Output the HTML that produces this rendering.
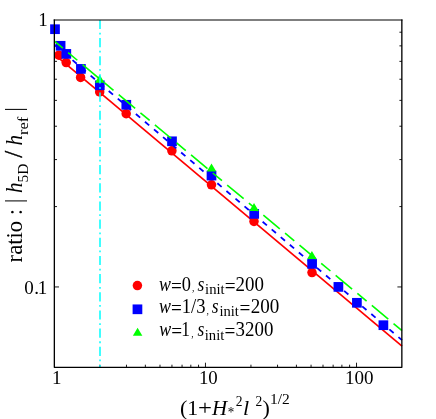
<!DOCTYPE html>
<html><head><meta charset="utf-8"><title>plot</title>
<style>
html,body{margin:0;padding:0;background:#fff;}
body{width:436px;height:419px;overflow:hidden;}
svg{display:block;position:absolute;left:0;top:0;will-change:transform;}
text{font-family:"Liberation Serif",serif;fill:#000;}
</style></head><body>
<svg width="436" height="419" viewBox="0 0 436 419">
<rect x="0" y="0" width="436" height="419" fill="#fff"/>

<g stroke="#000" stroke-width="0.9">
<line x1="99.87" y1="367.3" x2="99.87" y2="364.7"/>
<line x1="126.48" y1="367.3" x2="126.48" y2="364.7"/>
<line x1="145.35" y1="367.3" x2="145.35" y2="364.7"/>
<line x1="159.99" y1="367.3" x2="159.99" y2="364.7"/>
<line x1="171.95" y1="367.3" x2="171.95" y2="364.7"/>
<line x1="182.06" y1="367.3" x2="182.06" y2="364.7"/>
<line x1="190.82" y1="367.3" x2="190.82" y2="364.7"/>
<line x1="198.55" y1="367.3" x2="198.55" y2="364.7"/>
<line x1="205.46" y1="367.3" x2="205.46" y2="362.7"/>
<line x1="250.94" y1="367.3" x2="250.94" y2="364.7"/>
<line x1="277.54" y1="367.3" x2="277.54" y2="364.7"/>
<line x1="296.41" y1="367.3" x2="296.41" y2="364.7"/>
<line x1="311.05" y1="367.3" x2="311.05" y2="364.7"/>
<line x1="323.01" y1="367.3" x2="323.01" y2="364.7"/>
<line x1="333.13" y1="367.3" x2="333.13" y2="364.7"/>
<line x1="341.89" y1="367.3" x2="341.89" y2="364.7"/>
<line x1="349.61" y1="367.3" x2="349.61" y2="364.7"/>
<line x1="356.53" y1="367.3" x2="356.53" y2="362.7"/>
<line x1="54.4" y1="286.94" x2="59.0" y2="286.94"/>
<line x1="402.0" y1="286.94" x2="397.4" y2="286.94"/>
<line x1="54.4" y1="206.58" x2="57.0" y2="206.58"/>
<line x1="402.0" y1="206.58" x2="399.4" y2="206.58"/>
<line x1="54.4" y1="159.58" x2="57.0" y2="159.58"/>
<line x1="402.0" y1="159.58" x2="399.4" y2="159.58"/>
<line x1="54.4" y1="126.23" x2="57.0" y2="126.23"/>
<line x1="402.0" y1="126.23" x2="399.4" y2="126.23"/>
<line x1="54.4" y1="100.36" x2="57.0" y2="100.36"/>
<line x1="402.0" y1="100.36" x2="399.4" y2="100.36"/>
<line x1="54.4" y1="79.22" x2="57.0" y2="79.22"/>
<line x1="402.0" y1="79.22" x2="399.4" y2="79.22"/>
<line x1="54.4" y1="61.35" x2="57.0" y2="61.35"/>
<line x1="402.0" y1="61.35" x2="399.4" y2="61.35"/>
<line x1="54.4" y1="45.87" x2="57.0" y2="45.87"/>
<line x1="402.0" y1="45.87" x2="399.4" y2="45.87"/>
<line x1="54.4" y1="32.21" x2="57.0" y2="32.21"/>
<line x1="402.0" y1="32.21" x2="399.4" y2="32.21"/>
</g>
<g fill="#ff0000">
<circle cx="58.9" cy="55.2" r="4.75"/>
<circle cx="66.2" cy="62.6" r="4.75"/>
<circle cx="80.6" cy="77.4" r="4.75"/>
<circle cx="99.7" cy="91.9" r="4.75"/>
<circle cx="126.2" cy="113.7" r="4.75"/>
<circle cx="171.9" cy="150.8" r="4.75"/>
<circle cx="211.5" cy="184.8" r="4.75"/>
<circle cx="254.0" cy="221.4" r="4.75"/>
<circle cx="312.0" cy="272.6" r="4.75"/>
<circle cx="137.4" cy="285.6" r="4.75"/>
</g>
<line x1="54.4" y1="54.4" x2="402.0" y2="346.2" stroke="#ff0000" stroke-width="1.7"/>
<g fill="#0000ff">
<rect x="50.15" y="24.35" width="9.7" height="9.7"/>
<rect x="55.75" y="40.95" width="9.7" height="9.7"/>
<rect x="61.45" y="49.05" width="9.7" height="9.7"/>
<rect x="76.05" y="64.05" width="9.7" height="9.7"/>
<rect x="94.95" y="80.45" width="9.7" height="9.7"/>
<rect x="121.45" y="99.95" width="9.7" height="9.7"/>
<rect x="167.15" y="136.45" width="9.7" height="9.7"/>
<rect x="206.65" y="170.75" width="9.7" height="9.7"/>
<rect x="249.35" y="209.05" width="9.7" height="9.7"/>
<rect x="307.25" y="259.05" width="9.7" height="9.7"/>
<rect x="333.55" y="282.05" width="9.7" height="9.7"/>
<rect x="352.05" y="297.95" width="9.7" height="9.7"/>
<rect x="378.55" y="320.35" width="9.7" height="9.7"/>
<rect x="132.60" y="304.45" width="9.7" height="9.7"/>
</g>
<line x1="54.4" y1="44.8" x2="402.0" y2="340.1" stroke="#0000ff" stroke-width="1.8" stroke-dasharray="5.6 6.28" stroke-dashoffset="0"/>
<g fill="#00ff00">
<polygon points="99.7,74.7 94.95,82.7 104.45,82.7"/>
<polygon points="211.5,163.5 206.75,171.5 216.25,171.5"/>
<polygon points="254.0,202.9 249.25,210.9 258.75,210.9"/>
<polygon points="311.9,251.0 307.15,259.0 316.65,259.0"/>
<polygon points="137.6,327.7 132.85,335.7 142.35,335.7"/>
</g>
<line x1="54.4" y1="41.15" x2="402.0" y2="330.58" stroke="#00ff00" stroke-width="1.6" stroke-dasharray="21.4 6.85 12 6.8" stroke-dashoffset="10.4"/>
<line x1="100.0" y1="20.0" x2="100.0" y2="367.3" stroke="#00ffff" stroke-width="1.5" stroke-dasharray="9.2 3.6 1.8 3.56" stroke-dashoffset="0.16"/>
<line x1="53.699999999999996" y1="20.0" x2="402.5" y2="20.0" stroke="#000" stroke-width="1.2"/>
<polyline points="54.35,19.4 54.35,367.35 401.85,367.35 401.85,19.4" fill="none" stroke="#000" stroke-width="1.32" stroke-linejoin="round"/>
<text transform="translate(38.13,25.90) scale(1.0,1.0)" font-size="19px">1</text>
<text transform="translate(24.35,293.80) scale(1.0,1.0)" font-size="19px">0</text>
<text transform="translate(34.32,293.80) scale(1.0,1.0)" font-size="19px">.</text>
<text transform="translate(37.63,293.80) scale(1.0,1.0)" font-size="19px">1</text>
<text transform="translate(52.08,384.00) scale(1.0,1.0)" font-size="19px">1</text>
<text transform="translate(198.91,384.00) scale(0.994,1.0)" font-size="19px">10</text>
<text transform="translate(344.99,384.10) scale(1.004,1.0)" font-size="19px">100</text>
<text transform="translate(158.98,290.70) scale(1.02,1.17)" font-size="17.5px" font-style="italic">w</text>
<text transform="translate(170.94,292.70) scale(1.1,1.17)" font-size="17.5px">=</text>
<text transform="translate(181.71,290.70) scale(1.05,1.18)" font-size="17.5px">0</text>
<text transform="translate(192.10,291.30) scale(1.0,1.0)" font-size="9.5px" fill="#666">,</text>
<text transform="translate(197.50,290.70) scale(1.0,1.17)" font-size="17.5px" font-style="italic">s</text>
<text transform="translate(205.09,294.00) scale(1.047,1.1)" font-size="14px">init</text>
<text transform="translate(224.74,292.70) scale(1.1,1.17)" font-size="17.5px">=</text>
<text transform="translate(235.54,290.70) scale(1.083,1.18)" font-size="17.5px">200</text>
<text transform="translate(158.98,313.00) scale(1.02,1.17)" font-size="17.5px" font-style="italic">w</text>
<text transform="translate(170.94,315.00) scale(1.1,1.17)" font-size="17.5px">=</text>
<text transform="translate(181.76,313.00) scale(1.062,1.18)" font-size="17.5px">1/3</text>
<text transform="translate(206.60,313.60) scale(1.0,1.0)" font-size="9.5px" fill="#666">,</text>
<text transform="translate(211.85,313.00) scale(1.0,1.17)" font-size="17.5px" font-style="italic">s</text>
<text transform="translate(219.49,316.30) scale(1.041,1.1)" font-size="14px">init</text>
<text transform="translate(239.49,315.00) scale(1.1,1.17)" font-size="17.5px">=</text>
<text transform="translate(250.73,313.00) scale(1.091,1.18)" font-size="17.5px">200</text>
<text transform="translate(159.13,336.30) scale(1.02,1.17)" font-size="17.5px" font-style="italic">w</text>
<text transform="translate(171.19,338.30) scale(1.1,1.17)" font-size="17.5px">=</text>
<text transform="translate(181.23,336.30) scale(1.0,1.18)" font-size="17.5px">1</text>
<text transform="translate(191.15,336.90) scale(1.0,1.0)" font-size="9.5px" fill="#666">,</text>
<text transform="translate(197.45,336.30) scale(1.0,1.17)" font-size="17.5px" font-style="italic">s</text>
<text transform="translate(204.79,339.60) scale(1.047,1.1)" font-size="14px">init</text>
<text transform="translate(224.44,338.30) scale(1.1,1.17)" font-size="17.5px">=</text>
<text transform="translate(235.54,336.30) scale(1.081,1.18)" font-size="17.5px">3200</text>
<text transform="translate(179.94,414.50) scale(1.05,1.0)" font-size="21px">(</text>
<text transform="translate(187.18,414.50) scale(1.04,1.0)" font-size="21px">1</text>
<text transform="translate(197.92,414.50) scale(1.18,1.0)" font-size="21px">+</text>
<text transform="translate(212.10,414.50) scale(1.0,1.0)" font-size="21px" font-style="italic">H</text>
<text transform="translate(227.75,416.50) scale(1.0,1.1)" font-size="13px" fill="#555">*</text>
<text transform="translate(235.85,405.80) scale(1.0,1.1)" font-size="13.5px">2</text>
<text transform="translate(242.89,414.50) scale(1.05,1.0)" font-size="21px" font-style="italic">l</text>
<text transform="translate(255.45,405.80) scale(1.0,1.1)" font-size="13.5px">2</text>
<text transform="translate(262.61,414.50) scale(1.05,1.0)" font-size="21px">)</text>
<text transform="translate(270.02,404.00) scale(1.148,1.15)" font-size="13.5px">1/2</text>
<text transform="translate(21.70,262.39) rotate(-90) scale(1.082,1.08)" font-size="21px">ratio</text>
<text transform="translate(21.90,215.00) rotate(-90) scale(1.0,1.12)" font-size="21px">:</text>
<text transform="translate(22.00,203.02) rotate(-90) scale(1.0,1.15)" font-size="21px">|</text>
<text transform="translate(21.80,193.00) rotate(-90) scale(1.0,1.06)" font-size="21px" font-style="italic">h</text>
<text transform="translate(28.30,182.55) rotate(-90) scale(1.061,1.0)" font-size="14.5px">5D</text>
<text transform="translate(21.90,157.75) rotate(-90) scale(1.2,1.15)" font-size="21px" stroke="#000" stroke-width="0.3">/</text>
<text transform="translate(21.80,145.40) rotate(-90) scale(1.0,1.06)" font-size="21px" font-style="italic">h</text>
<text transform="translate(28.30,134.93) rotate(-90) scale(1.137,1.0)" font-size="14.5px">ref</text>
<text transform="translate(22.00,111.62) rotate(-90) scale(1.0,1.15)" font-size="21px">|</text>
</svg>
</body></html>
